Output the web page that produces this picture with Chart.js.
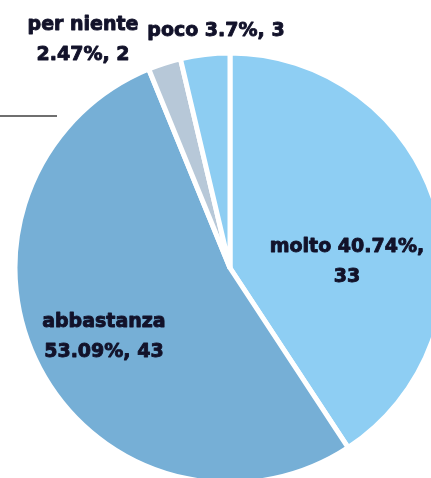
<!DOCTYPE html>
<html>
<head>
<meta charset="utf-8">
<script src="https://cdn.jsdelivr.net/npm/chart.js@4/dist/chart.umd.min.js"></script>
<style>
  html, body { margin: 0; padding: 0; background: #fff; overflow: hidden; }
  #wrap { width: 431px; height: 478px; position: relative; }
</style>
</head>
<body>
<div id="wrap"><canvas id="pie"></canvas></div>
<script>
// Data
const categories = ["molto", "abbastanza", "per niente", "poco"];
const counts = [33, 43, 2, 3];
const percents = ["40.74%", "53.09%", "2.47%", "3.7%"];
const sliceColors = ["#8ecef3", "#76afd6", "#b7c8d8", "#8dcdf2"];

// How each label block sits around its slice (fractions of the radius, from the pie centre)
const labelSpots = [
  { dx: 0.549, dy: -0.031, lines: (i) => [categories[i] + " " + percents[i] + ",", String(counts[i])] },
  { dx: -0.592, dy: 0.319, lines: (i) => [categories[i], percents[i] + ", " + counts[i]] },
  { dx: -0.690, dy: -1.075, lines: (i) => [categories[i], percents[i] + ", " + counts[i]] },
  { dx: -0.066, dy: -1.117, lines: (i) => [categories[i] + " " + percents[i] + ", " + counts[i]] }
];

// Draw the data labels (no datalabels plugin in the sandbox)
const sliceLabels = {
  id: "sliceLabels",
  afterDatasetsDraw(chart) {
    const ctx = chart.ctx;
    const arcs = chart.getDatasetMeta(0).data;
    ctx.save();

    // stray grey rule at the left edge of the original
    ctx.strokeStyle = "#6f6f6f";
    ctx.lineWidth = 2;
    ctx.beginPath();
    ctx.moveTo(0, 116);
    ctx.lineTo(57, 116);
    ctx.stroke();

    ctx.font = "bold 19px 'DejaVu Sans'";
    ctx.fillStyle = "#12122a";
    ctx.strokeStyle = "#12122a";
    ctx.lineWidth = 0.9;
    ctx.lineJoin = "round";
    ctx.textAlign = "center";
    ctx.textBaseline = "middle";
    const lineH = 30;
    arcs.forEach((arc, i) => {
      const spot = labelSpots[i];
      const r = arc.outerRadius - 2;
      const cx = arc.x + spot.dx * r;
      const cy = arc.y + spot.dy * r;
      const lines = spot.lines(i);
      lines.forEach((t, k) => {
        const y = cy + (k - (lines.length - 1) / 2) * lineH + 1;
        ctx.fillText(t, cx, y);
        ctx.strokeText(t, cx, y);
      });
    });
    ctx.restore();
  }
};

new Chart(document.getElementById("pie"), {
  type: "pie",
  data: {
    labels: categories,
    datasets: [{
      data: counts,
      backgroundColor: sliceColors,
      borderColor: "#ffffff",
      borderWidth: 5,
      radius: 215,
      clip: false
    }]
  },
  options: {
    responsive: true,
    maintainAspectRatio: false,
    animation: false,
    layout: { padding: { left: 29, right: 0, top: 58, bottom: 0 } },
    plugins: {
      legend: { display: false },
      tooltip: { enabled: false }
    }
  },
  plugins: [sliceLabels]
});
</script>
</body>
</html>
